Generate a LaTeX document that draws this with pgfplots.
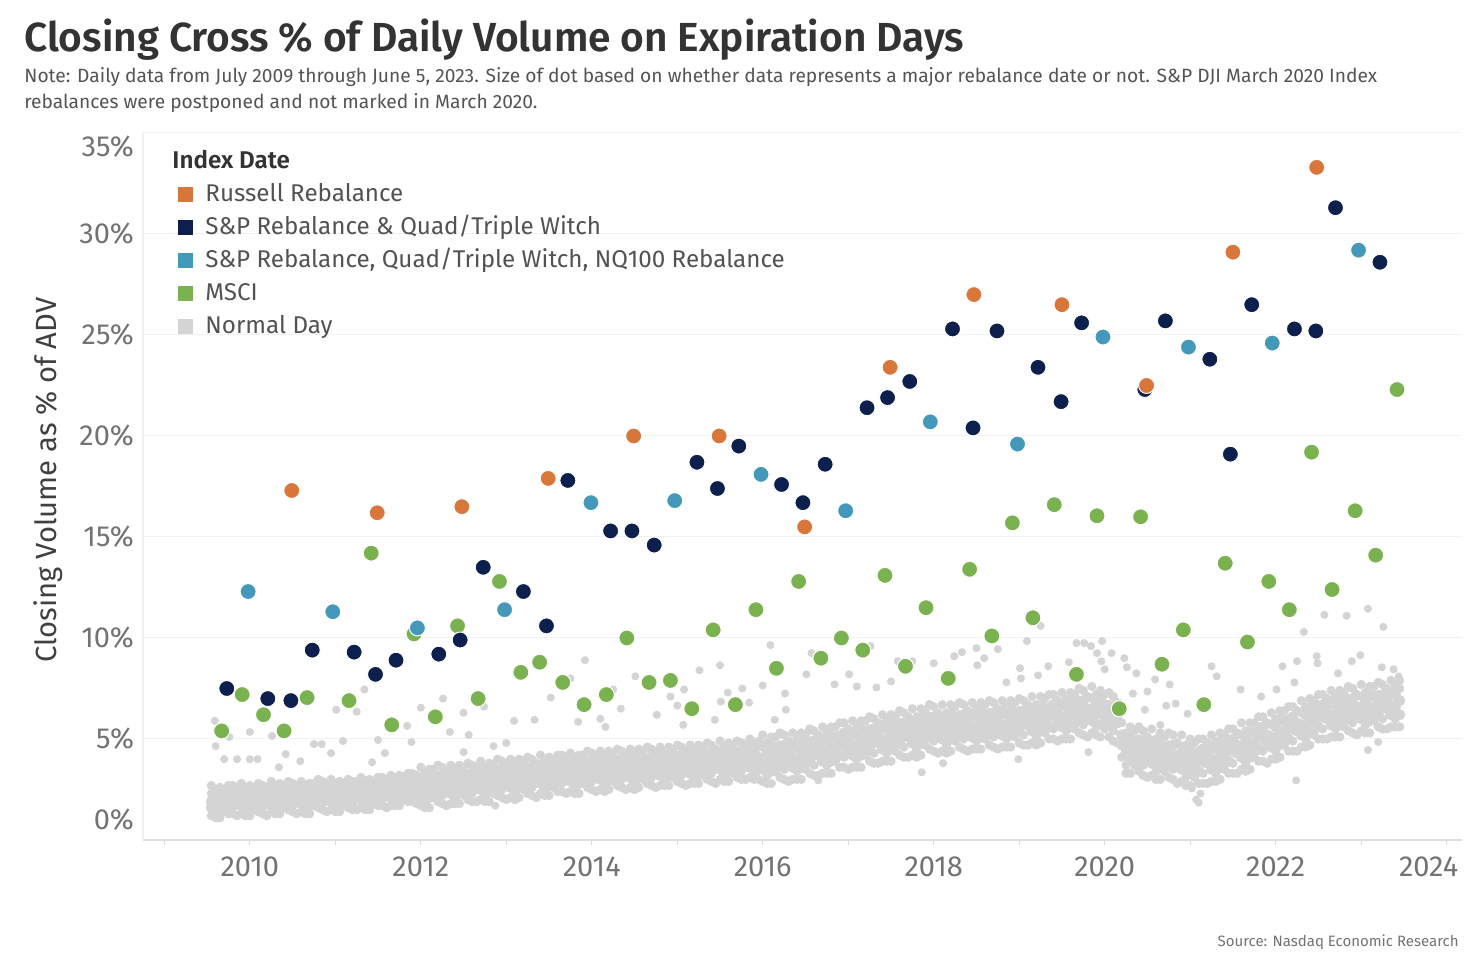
\documentclass[border=0pt]{standalone}
\usepackage{pgfplots}
\pgfplotsset{compat=1.18}
\usepackage{pgfplotstable}
\usepackage{fontspec}
\setmainfont{Fira Sans}[BoldFont={* SemiBold}]
\definecolor{rus}{HTML}{D9763A}
\definecolor{spq}{HTML}{0C1F4D}
\definecolor{nq}{HTML}{4499BB}
\definecolor{msci}{HTML}{7AB24F}
\definecolor{norm}{HTML}{D4D4D4}
\pgfplotsset{
  sqimg/.style={legend image code/.code={\fill[##1] (0pt,-3.75pt) rectangle (7.5pt,3.75pt);}},
  normal/.style={forget plot, only marks, mark=*, mark size=#1, color=norm, mark options={draw=norm, fill=norm}},
  big/.style={forget plot, only marks, mark=*, mark size=4pt, color=#1, mark options={fill=#1, draw=white, line width=0.5pt}},
}
\pgfplotstableread{
t y
2010.49 17.3
2011.49 16.2
2012.48 16.5
2013.49 17.9
2014.49 20.0
2015.49 20.0
2016.49 15.5
2017.49 23.4
2018.47 27.0
2019.50 26.5
2020.49 22.5
2021.50 29.1
2022.48 33.3
}\rustab
\pgfplotstableread{
t y
2009.73 7.5
2010.21 7.0
2010.48 6.9
2010.73 9.4
2011.22 9.3
2011.47 8.2
2011.71 8.9
2012.21 9.2
2012.46 9.9
2012.73 13.5
2013.20 12.3
2013.47 10.6
2013.72 17.8
2014.22 15.3
2014.47 15.3
2014.73 14.6
2015.23 18.7
2015.47 17.4
2015.72 19.5
2016.22 17.6
2016.47 16.7
2016.73 18.6
2017.22 21.4
2017.46 21.9
2017.72 22.7
2018.22 25.3
2018.46 20.4
2018.74 25.2
2019.22 23.4
2019.49 21.7
2019.73 25.6
2020.47 22.3
2020.71 25.7
2021.23 23.8
2021.47 19.1
2021.72 26.5
2022.22 25.3
2022.47 25.2
2022.70 31.3
2023.22 28.6
}\spqtab
\pgfplotstableread{
t y
2009.98 12.3
2010.97 11.3
2011.96 10.5
2012.98 11.4
2013.99 16.7
2014.97 16.8
2015.98 18.1
2016.97 16.3
2017.96 20.7
2018.98 19.6
2019.98 24.9
2020.98 24.4
2021.96 24.6
2022.97 29.2
}\nqtab
\pgfplotstableread{
t y
2009.67 5.4
2009.91 7.2
2010.16 6.2
2010.40 5.4
2010.67 7.05
2011.16 6.9
2011.42 14.2
2011.66 5.7
2011.92 10.2
2012.17 6.1
2012.43 10.6
2012.67 7.0
2012.92 12.8
2013.17 8.3
2013.39 8.8
2013.66 7.8
2013.91 6.7
2014.17 7.2
2014.41 10.0
2014.67 7.8
2014.92 7.9
2015.17 6.5
2015.42 10.4
2015.68 6.7
2015.92 11.4
2016.16 8.5
2016.42 12.8
2016.68 9.0
2016.92 10.0
2017.17 9.4
2017.43 13.1
2017.67 8.6
2017.91 11.5
2018.17 8.0
2018.42 13.4
2018.68 10.1
2018.92 15.7
2019.16 11.0
2019.41 16.6
2019.67 8.2
2019.91 16.05
2020.17 6.5
2020.42 16.0
2020.67 8.7
2020.92 10.4
2021.16 6.7
2021.41 13.7
2021.67 9.8
2021.92 12.8
2022.16 11.4
2022.42 19.2
2022.66 12.4
2022.93 16.3
2023.17 14.1
2023.42 22.3
}\mscitab
\pgfplotstableread{
t a b c d e
2009.55 1.2 1.6 1.9 2.3 2.7
2009.60 1.3 1.7 2.1 2.5 1.1
2009.65 1.1 1.5 2.0 2.4 2.6
2009.70 1.4 1.8 2.2 2.5 1.7
2009.75 1.3 1.7 2.1 2.7 2.3
2009.80 1.6 2.0 2.4 2.7 1.3
2009.85 1.2 1.8 2.2 2.6 2.1
2009.90 1.3 1.7 2.0 2.4 2.8
2009.95 1.4 1.8 2.2 2.6 1.2
2010.00 1.2 1.6 2.1 2.5 2.7
2010.05 1.5 1.9 2.3 2.6 1.8
2010.10 1.4 1.8 2.2 2.8 2.4
2010.15 1.6 2.0 2.4 2.7 1.3
2010.20 1.2 1.8 2.2 2.6 2.1
2010.25 1.4 1.8 2.1 2.5 2.9
2010.30 1.5 1.9 2.3 2.7 1.3
2010.35 1.3 1.7 2.2 2.6 2.8
2010.40 1.6 2.0 2.4 2.7 1.9
2010.45 1.5 1.9 2.3 2.9 2.5
2010.50 1.7 2.1 2.5 2.8 1.4
2010.55 1.3 1.9 2.3 2.7 2.2
2010.60 1.4 1.8 2.1 2.5 2.9
2010.65 1.5 1.9 2.3 2.7 1.3
2010.70 1.3 1.7 2.2 2.6 2.8
2010.75 1.7 2.1 2.5 2.8 2.0
2010.80 1.6 2.0 2.4 3.0 2.6
2010.85 1.8 2.2 2.6 2.9 1.5
2010.90 1.4 2.0 2.4 2.8 2.3
2010.95 1.5 1.9 2.2 2.6 3.0
2011.00 1.6 2.0 2.4 2.8 1.4
2011.05 1.4 1.8 2.3 2.7 2.9
2011.10 1.7 2.1 2.5 2.8 2.0
2011.15 1.6 2.0 2.4 3.0 2.6
2011.20 1.8 2.2 2.6 2.9 1.5
2011.25 1.5 2.1 2.5 2.9 2.4
2011.30 1.6 2.0 2.3 2.7 3.1
2011.35 1.7 2.1 2.5 2.9 1.5
2011.40 1.5 1.9 2.4 2.8 3.0
2011.45 1.8 2.2 2.6 2.9 2.1
2011.50 1.7 2.1 2.5 3.1 2.7
2011.55 2.0 2.4 2.8 3.1 1.7
2011.60 1.6 2.2 2.6 3.0 2.5
2011.65 1.7 2.1 2.4 2.8 3.2
2011.70 1.9 2.3 2.7 3.1 1.7
2011.75 1.7 2.1 2.6 3.0 3.2
2011.80 2.0 2.4 2.8 3.1 2.3
2011.85 1.9 2.3 2.7 3.3 2.9
2011.90 2.2 2.6 3.0 3.3 1.9
2011.95 1.8 2.4 2.8 3.2 2.7
2012.00 1.7 2.2 2.6 3.1 3.6
2012.05 1.9 2.4 2.9 3.3 1.6
2012.10 1.6 2.1 2.7 3.2 3.5
2012.15 2.1 2.6 3.1 3.5 2.4
2012.20 1.9 2.4 2.9 3.7 3.2
2012.25 2.2 2.7 3.2 3.6 1.8
2012.30 1.7 2.5 2.9 3.4 2.8
2012.35 1.8 2.3 2.7 3.2 3.7
2012.40 2.1 2.6 3.1 3.5 1.8
2012.45 1.8 2.3 2.9 3.4 3.7
2012.50 2.2 2.7 3.2 3.6 2.5
2012.55 2.0 2.5 3.0 3.8 3.3
2012.60 2.3 2.8 3.3 3.7 1.9
2012.65 1.9 2.7 3.1 3.6 3.0
2012.70 2.0 2.5 2.9 3.4 3.9
2012.75 2.2 2.7 3.2 3.6 1.9
2012.80 1.9 2.4 3.0 3.5 3.8
2012.85 2.3 2.8 3.3 3.7 2.6
2012.90 2.2 2.7 3.2 4.0 3.5
2012.95 2.5 3.0 3.5 3.9 2.1
2013.00 2.0 2.8 3.2 3.7 3.1
2013.05 2.1 2.6 3.0 3.5 4.0
2013.10 2.3 2.8 3.3 3.7 2.0
2013.15 2.1 2.6 3.2 3.7 4.0
2013.20 2.5 3.0 3.5 3.9 2.8
2013.25 2.3 2.8 3.3 4.1 3.6
2013.30 2.6 3.1 3.6 4.0 2.2
2013.35 2.1 2.9 3.3 3.8 3.2
2013.40 2.3 2.8 3.2 3.7 4.2
2013.45 2.5 3.0 3.5 3.9 2.2
2013.50 2.2 2.7 3.3 3.8 4.1
2013.55 2.6 3.1 3.6 4.0 2.9
2013.60 2.4 2.9 3.4 4.2 3.7
2013.65 2.8 3.3 3.8 4.2 2.4
2013.70 2.3 3.1 3.5 4.0 3.4
2013.75 2.4 2.9 3.3 3.8 4.3
2013.80 2.6 3.1 3.6 4.0 2.3
2013.85 2.3 2.8 3.4 3.9 4.2
2013.90 2.8 3.3 3.8 4.2 3.1
2013.95 2.6 3.1 3.6 4.4 3.9
2014.00 2.9 3.4 3.9 4.3 2.5
2014.05 2.4 3.2 3.6 4.1 3.5
2014.10 2.5 3.0 3.4 3.9 4.4
2014.15 2.7 3.2 3.7 4.1 2.4
2014.20 2.5 3.0 3.6 4.1 4.4
2014.25 2.9 3.4 3.9 4.3 3.2
2014.30 2.7 3.2 3.7 4.5 4.0
2014.35 3.0 3.5 4.0 4.4 2.6
2014.40 2.5 3.3 3.7 4.2 3.6
2014.45 2.6 3.1 3.5 4.0 4.5
2014.50 2.8 3.3 3.8 4.2 2.5
2014.55 2.6 3.1 3.7 4.2 4.5
2014.60 3.0 3.5 4.0 4.4 3.3
2014.65 2.8 3.3 3.8 4.6 4.1
2014.70 3.1 3.6 4.1 4.5 2.7
2014.75 2.6 3.4 3.8 4.3 3.7
2014.80 2.7 3.2 3.6 4.1 4.6
2014.85 3.0 3.5 4.0 4.4 2.7
2014.90 2.7 3.2 3.8 4.3 4.6
2014.95 3.1 3.6 4.1 4.5 3.4
2015.00 2.9 3.4 3.9 4.7 4.2
2015.05 3.2 3.7 4.2 4.6 2.8
2015.10 2.7 3.5 3.9 4.4 3.8
2015.15 2.8 3.3 3.7 4.2 4.7
2015.20 3.1 3.6 4.1 4.5 2.8
2015.25 2.8 3.3 3.9 4.4 4.7
2015.30 3.2 3.7 4.2 4.6 3.5
2015.35 3.0 3.5 4.0 4.8 4.3
2015.40 3.3 3.8 4.3 4.7 2.9
2015.45 2.8 3.6 4.0 4.5 3.9
2015.50 3.0 3.5 3.9 4.4 4.9
2015.55 3.2 3.7 4.2 4.6 2.9
2015.60 2.9 3.4 4.0 4.5 4.8
2015.65 3.3 3.8 4.3 4.7 3.6
2015.70 3.1 3.6 4.1 4.9 4.4
2015.75 3.4 3.9 4.4 4.8 3.0
2015.80 3.0 3.8 4.2 4.7 4.1
2015.85 3.1 3.6 4.0 4.5 5.0
2015.90 3.3 3.8 4.3 4.7 3.0
2015.95 3.0 3.5 4.1 4.6 4.9
2016.00 2.9 3.5 4.0 4.6 5.2
2016.05 3.2 3.8 4.4 4.8 2.8
2016.10 2.8 3.4 4.1 4.7 5.1
2016.15 3.4 4.0 4.6 5.1 3.7
2016.20 3.1 3.7 4.3 5.3 4.7
2016.25 3.5 4.1 4.7 5.2 3.0
2016.30 2.9 3.9 4.3 4.9 4.2
2016.35 3.0 3.6 4.1 4.7 5.3
2016.40 3.4 4.0 4.6 5.0 3.0
2016.45 3.0 3.6 4.3 4.9 5.3
2016.50 3.5 4.1 4.7 5.2 3.8
2016.55 3.3 3.9 4.5 5.5 4.9
2016.60 3.7 4.3 4.9 5.4 3.2
2016.65 3.2 4.2 4.6 5.2 4.5
2016.70 3.3 3.9 4.4 5.0 5.6
2016.75 3.7 4.3 4.9 5.3 3.3
2016.80 3.3 3.9 4.6 5.2 5.6
2016.85 3.9 4.5 5.1 5.6 4.2
2016.90 3.6 4.2 4.8 5.8 5.2
2016.95 4.1 4.7 5.3 5.8 3.6
2017.00 3.5 4.5 4.9 5.5 4.8
2017.05 3.6 4.2 4.7 5.3 5.9
2017.10 4.0 4.6 5.2 5.6 3.6
2017.15 3.6 4.2 4.9 5.5 5.9
2017.20 4.2 4.8 5.4 5.9 4.5
2017.25 3.9 4.5 5.1 6.1 5.5
2017.30 4.3 4.9 5.5 6.0 3.8
2017.35 3.8 4.8 5.2 5.8 5.1
2017.40 3.9 4.5 5.0 5.6 6.2
2017.45 4.3 4.9 5.5 5.9 3.9
2017.50 3.9 4.5 5.2 5.8 6.2
2017.55 4.4 5.0 5.6 6.1 4.7
2017.60 4.2 4.8 5.4 6.4 5.8
2017.65 4.6 5.2 5.8 6.3 4.1
2017.70 4.1 5.1 5.5 6.1 5.4
2017.75 4.2 4.8 5.3 5.9 6.5
2017.80 4.5 5.1 5.7 6.1 4.1
2017.85 4.2 4.8 5.5 6.1 6.5
2017.90 4.7 5.3 5.9 6.4 5.0
2017.95 4.5 5.1 5.7 6.7 6.1
2018.00 4.9 5.5 6.1 6.6 4.4
2018.05 4.3 5.3 5.7 6.3 5.6
2018.10 4.4 5.0 5.5 6.1 6.7
2018.15 4.7 5.3 5.9 6.3 4.3
2018.20 4.4 5.0 5.7 6.3 6.7
2018.25 4.9 5.5 6.1 6.6 5.2
2018.30 4.6 5.2 5.8 6.8 6.2
2018.35 5.0 5.6 6.2 6.7 4.5
2018.40 4.4 5.4 5.8 6.4 5.7
2018.45 4.5 5.1 5.6 6.2 6.8
2018.50 4.9 5.5 6.1 6.5 4.5
2018.55 4.5 5.1 5.8 6.4 6.8
2018.60 5.0 5.6 6.2 6.7 5.3
2018.65 4.7 5.3 5.9 6.9 6.3
2018.70 5.1 5.7 6.3 6.8 4.6
2018.75 4.5 5.5 5.9 6.5 5.8
2018.80 4.6 5.2 5.7 6.3 6.9
2018.85 5.0 5.6 6.2 6.6 4.6
2018.90 4.6 5.2 5.9 6.5 6.9
2018.95 5.1 5.7 6.3 6.8 5.4
2019.00 4.8 5.4 6.0 7.0 6.4
2019.05 5.2 5.8 6.4 6.9 4.7
2019.10 4.7 5.7 6.1 6.7 6.0
2019.15 4.8 5.4 5.9 6.5 7.1
2019.20 5.1 5.7 6.3 6.7 4.7
2019.25 4.8 5.4 6.1 6.7 7.1
2019.30 5.3 5.9 6.5 7.0 5.6
2019.35 5.0 5.6 6.2 7.2 6.6
2019.40 5.5 6.1 6.7 7.2 5.0
2019.45 4.9 5.9 6.3 6.9 6.2
2019.50 5.0 5.6 6.1 6.7 7.3
2019.55 5.4 6.0 6.6 7.0 5.0
2019.60 5.0 5.6 6.3 6.9 7.3
2019.65 5.5 6.1 6.7 7.2 5.8
2019.70 5.3 5.9 6.5 7.5 6.9
2019.75 5.7 6.3 6.9 7.4 5.2
2019.80 5.1 6.1 6.5 7.1 6.4
2019.85 5.3 5.9 6.4 7.0 7.6
2019.90 5.6 6.2 6.8 7.2 5.2
2019.95 5.1 5.7 6.4 7.0 7.4
2020.00 5.5 6.1 6.7 7.2 5.8
2020.05 5.1 5.7 6.3 7.3 6.7
2020.10 5.4 6.0 6.6 7.1 4.9
2020.15 4.8 5.8 6.2 6.8 6.1
2020.20 4.1 4.7 5.2 5.8 6.4
2020.25 3.7 4.3 4.9 5.3 3.3
2020.30 3.3 3.9 4.6 5.2 5.6
2020.35 3.7 4.3 4.9 5.4 4.0
2020.40 3.4 4.0 4.6 5.6 5.0
2020.45 3.7 4.3 4.9 5.4 3.2
2020.50 3.1 4.1 4.5 5.1 4.4
2020.55 3.2 3.8 4.3 4.9 5.5
2020.60 3.4 4.0 4.6 5.0 3.0
2020.65 3.0 3.6 4.3 4.9 5.3
2020.70 3.4 4.0 4.6 5.1 3.7
2020.75 3.1 3.7 4.3 5.3 4.7
2020.80 3.5 4.1 4.7 5.2 3.0
2020.85 2.8 3.8 4.2 4.8 4.1
2020.90 2.9 3.5 4.0 4.6 5.2
2020.95 3.1 3.7 4.3 4.7 2.7
2021.00 2.7 3.3 4.0 4.6 5.0
2021.05 3.1 3.7 4.3 4.8 3.4
2021.10 2.8 3.4 4.0 5.0 4.4
2021.15 3.3 3.9 4.5 5.0 2.8
2021.20 2.8 3.8 4.2 4.8 4.1
2021.25 2.9 3.5 4.0 4.6 5.2
2021.30 3.3 3.9 4.5 4.9 2.9
2021.35 3.0 3.6 4.3 4.9 5.3
2021.40 3.5 4.1 4.7 5.2 3.8
2021.45 3.3 3.9 4.5 5.5 4.9
2021.50 3.8 4.4 5.0 5.5 3.3
2021.55 3.3 4.3 4.7 5.3 4.6
2021.60 3.5 4.1 4.6 5.2 5.8
2021.65 3.8 4.4 5.0 5.4 3.4
2021.70 3.5 4.1 4.8 5.4 5.8
2021.75 4.1 4.7 5.3 5.8 4.4
2021.80 3.9 4.5 5.1 6.1 5.5
2021.85 4.4 5.0 5.6 6.1 3.9
2021.90 3.8 4.8 5.2 5.8 5.1
2021.95 4.0 4.6 5.1 5.7 6.3
2022.00 4.4 5.0 5.6 6.0 4.0
2022.05 4.1 4.7 5.4 6.0 6.4
2022.10 4.7 5.3 5.9 6.4 5.0
2022.15 4.4 5.0 5.6 6.6 6.0
2022.20 4.9 5.5 6.1 6.6 4.4
2022.25 4.4 5.4 5.8 6.4 5.7
2022.30 4.6 5.2 5.7 6.3 6.9
2022.35 5.0 5.6 6.2 6.6 4.6
2022.40 4.7 5.3 6.0 6.6 7.0
2022.45 5.2 5.8 6.4 6.9 5.5
2022.50 5.0 5.6 6.2 7.2 6.6
2022.55 5.5 6.1 6.7 7.2 5.0
2022.60 5.0 6.0 6.4 7.0 6.3
2022.65 5.1 5.7 6.2 6.8 7.4
2022.70 5.5 6.1 6.7 7.1 5.1
2022.75 5.1 5.7 6.4 7.0 7.4
2022.80 5.6 6.2 6.8 7.3 5.9
2022.85 5.4 6.0 6.6 7.6 7.0
2022.90 5.8 6.4 7.0 7.5 5.3
2022.95 5.2 6.2 6.6 7.2 6.5
2023.00 5.4 6.0 6.5 7.1 7.7
2023.05 5.7 6.3 6.9 7.3 5.3
2023.10 5.3 5.9 6.6 7.2 7.6
2023.15 5.9 6.5 7.1 7.6 6.2
2023.20 5.6 6.2 6.8 7.8 7.2
2023.25 6.0 6.6 7.2 7.7 5.5
2023.30 5.5 6.5 6.9 7.5 6.8
2023.35 5.6 6.2 6.7 7.3 7.9
2023.40 6.0 6.6 7.2 7.6 5.6
2023.45 5.6 6.2 6.9 7.5 7.9
}\normtab
\pgfplotstableread{
t y
2009.59 5.9
2009.76 5.1
2009.60 4.65
2009.70 4.0
2009.85 4.0
2010.00 5.35
2010.00 4.0
2010.09 4.0
2010.26 5.15
2010.34 3.6
2010.42 4.25
2010.59 3.9
2010.75 4.75
2010.84 4.75
2010.95 4.3
2011.01 6.45
2011.09 4.9
2011.25 6.35
2011.34 7.45
2011.43 3.85
2011.50 4.95
2011.58 4.3
2011.84 5.65
2011.89 4.85
2012.00 6.55
2012.26 7.0
2012.34 5.35
2012.50 6.3
2012.56 5.2
2012.50 4.35
2012.74 6.6
2012.85 4.65
2012.87 1.7
2013.00 4.8
2013.09 5.9
2013.33 5.95
2013.52 7.05
2013.75 8.0
2013.92 8.9
2013.84 5.85
2014.10 6.0
2014.25 7.45
2014.34 6.5
2014.16 5.6
2014.51 8.1
2014.76 6.2
2014.92 7.1
2015.00 6.65
2015.08 7.45
2015.07 5.7
2015.26 8.4
2015.50 8.65
2015.44 5.95
2015.59 7.3
2015.51 6.85
2015.76 7.5
2015.84 6.8
2016.00 7.65
2016.09 9.65
2016.26 7.25
2016.27 6.45
2016.51 8.2
2016.57 9.25
2016.14 5.95
2016.84 7.7
2017.01 8.2
2017.10 7.6
2017.26 9.6
2017.33 7.55
2017.50 7.85
2017.58 8.85
2017.75 8.85
2018.00 8.75
2018.24 9.1
2018.33 9.3
2018.50 9.5
2018.51 8.65
2018.59 9.0
2018.75 9.45
2018.85 7.8
2019.01 8.5
2019.02 8.0
2019.09 9.85
2019.25 10.6
2019.22 8.15
2019.34 8.6
2019.58 8.8
2019.67 9.75
2019.76 9.75
2019.84 9.6
2019.97 9.85
2019.91 9.25
2020.08 9.25
2020.23 9.0
2020.26 8.55
2020.37 8.25
2020.33 7.25
2019.96 8.85
2020.00 8.45
2019.81 4.35
2018.99 4.0
2018.11 3.8
2017.86 3.35
2016.65 2.95
2020.50 7.35
2020.59 7.95
2020.76 7.7
2020.47 6.45
2020.72 6.65
2020.83 6.75
2020.65 5.7
2020.97 6.25
2021.25 8.6
2021.31 8.1
2021.59 7.45
2021.83 7.1
2022.01 7.45
2022.08 8.6
2022.25 8.85
2022.22 7.8
2022.33 10.3
2022.48 9.1
2022.49 8.75
2022.57 11.15
2022.83 11.1
2023.08 11.45
2023.26 10.55
2022.99 9.15
2022.89 8.85
2022.73 8.25
2023.24 8.55
2023.38 8.45
2023.44 8.1
2022.24 2.95
2021.12 2.3
2021.02 2.55
2021.07 2.0
2021.10 1.85
2023.08 4.45
2023.20 4.85
}\outtab
\begin{document}
\begin{tikzpicture}
\path[use as bounding box] (-71.5pt,-61pt) rectangle (669.5pt,420pt);
\begin{axis}[
  at={(0pt,0pt)}, anchor=south west,
  scale only axis, width=659.5pt, height=353.5pt,
  xmin=2008.75, xmax=2024.18, ymin=0, ymax=35,
  axis x line*=bottom, axis y line*=left,
  x axis line style={-, color=black!13, line width=0.8pt},
  y axis line style={-, color=black!6, line width=0.6pt},
  xtick={2010,2012,...,2022},
  xticklabels={2010,2012,2014,2016,2018,2020,2022},
  minor xtick={2009,2011,...,2023},
  extra x ticks={2024}, extra x tick labels={2024},
  extra x tick style={xticklabel style={xshift=-9pt}},
  xtick style={color=black!15, line width=0.6pt},
  minor tick length=2.5pt, major tick length=2.5pt,
  tick align=outside,
  xticklabel style={font=\fontsize{14.5}{16}\selectfont, text=black!55, yshift=-2.5pt},
  ytick={5,10,...,35},
  yticklabels={5\%,10\%,15\%,20\%,25\%,30\%,{}},
  extra y ticks={0.99,34.3}, extra y tick labels={0\%,35\%},
  extra y tick style={grid=none},
  ytick style={draw=none},
  yticklabel style={font=\fontsize{14.5}{16}\selectfont, text=black!55, xshift=1.5pt},
  ymajorgrids, grid style={color=black!5, line width=0.5pt},
  ylabel={Closing Volume as \% of ADV},
  every axis y label/.style={at={(axis description cs:0,0.509)}, rotate=90, anchor=center, yshift=47.5pt,
     font=\fontsize{14.6}{16}\selectfont, text=black!75},
  clip=false,
  legend style={at={(axis description cs:0,1)}, anchor=north west, xshift=17.5pt, yshift=-7pt,
     draw=none, fill=none, inner sep=0pt, font=\fontsize{12.1}{13}\selectfont, text=black!68,
     row sep=2pt, column sep=4.5pt,
     nodes={inner sep=1.5pt, text height=9pt, text depth=2.5pt}},
  legend cell align=left,
]
\addlegendimage{empty legend}
\addlegendentry{\hspace*{-16.5pt}\textcolor{black!80}{\bfseries Index Date}}
\addlegendimage{sqimg, fill=rus, draw=none}
\addlegendentry{Russell Rebalance}
\addlegendimage{sqimg, fill=spq, draw=none}
\addlegendentry{S\&P Rebalance \& Quad/Triple Witch}
\addlegendimage{sqimg, fill=nq, draw=none}
\addlegendentry{S\&P Rebalance, Quad/Triple Witch, NQ100 Rebalance}
\addlegendimage{sqimg, fill=msci, draw=none}
\addlegendentry{MSCI}
\addlegendimage{sqimg, fill=norm, draw=none}
\addlegendentry{Normal Day}
\addplot[normal=2.1pt] table[x=t,y=a]{\normtab};
\addplot[normal=2.6pt] table[x=t,y=b]{\normtab};
\addplot[normal=2.6pt] table[x=t,y=c]{\normtab};
\addplot[normal=2.1pt] table[x=t,y=d]{\normtab};
\addplot[normal=2.1pt] table[x=t,y=e]{\normtab};
\addplot[normal=1.8pt] table[x=t,y=y]{\outtab};
\addplot[big=msci] table[x=t,y=y]{\mscitab};
\addplot[big=spq] table[x=t,y=y]{\spqtab};
\addplot[big=nq] table[x=t,y=y]{\nqtab};
\addplot[big=rus] table[x=t,y=y]{\rustab};
\end{axis}
\node[anchor=base west, inner sep=0pt, font=\fontsize{20.3}{23}\selectfont\bfseries, text=black!80] at (-59.5pt,394pt) {Closing Cross \% of Daily Volume on Expiration Days};
\node[anchor=base west, inner sep=0pt, font=\fontsize{9.6}{11}\selectfont, text=black!67] at (-59.5pt,378.5pt) {Note: Daily data from July 2009 through June 5, 2023. Size of dot based on whether data represents a major rebalance date or not. S\&P DJI March 2020 Index};
\node[anchor=base west, inner sep=0pt, font=\fontsize{9.6}{11}\selectfont, text=black!67] at (-59.5pt,365.5pt) {rebalances were postponed and not marked in March 2020.};
\node[anchor=base east, inner sep=0pt, font=\fontsize{7.5}{9}\selectfont, text=black!55] at (658pt,-53.5pt) {Source: Nasdaq Economic Research};
\end{tikzpicture}
\end{document}
